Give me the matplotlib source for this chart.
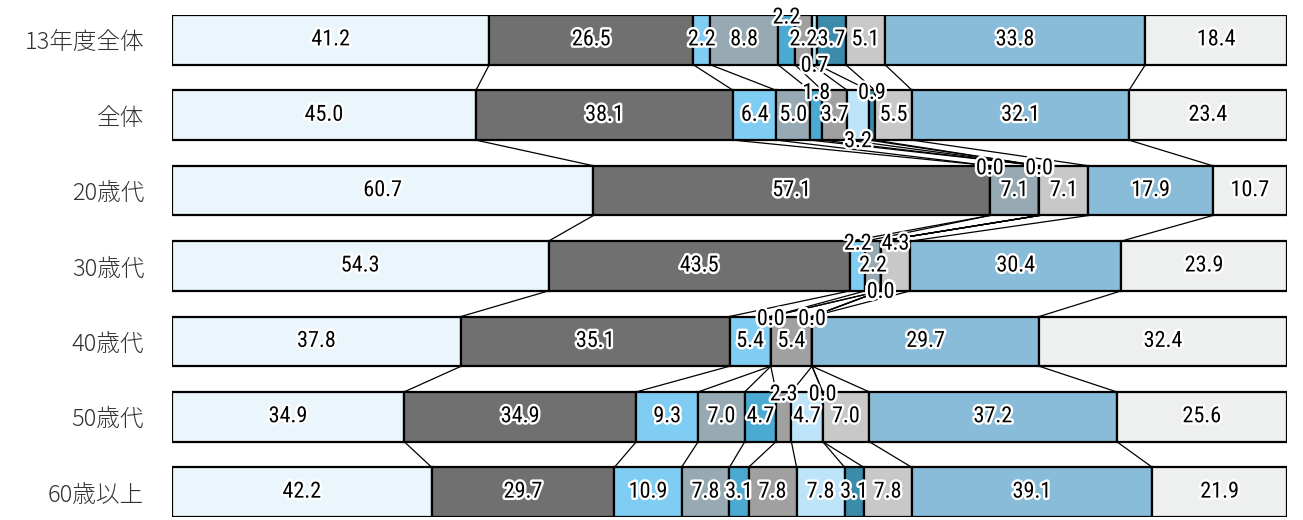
import numpy as np
import matplotlib
matplotlib.use("Agg")
import matplotlib.pyplot as plt
import matplotlib.patheffects as pe
from matplotlib import font_manager as fm

rows = ["13年度全体", "全体", "20歳代", "30歳代", "40歳代", "50歳代", "60歳以上"]

# 11 response categories per row (percent, multiple answer -> bars normalised)
r13 = [41.2, 26.5, 2.2, 8.8, 2.2, 2.2, 0.7, 3.7, 5.1, 33.8, 18.4]
rall = [45.0, 38.1, 6.4, 5.0, 1.8, 3.7, 3.2, 0.9, 5.5, 32.1, 23.4]
r20 = [60.7, 57.1, 0.0, 7.1, 0.0, 0.0, 0.0, 0.0, 7.1, 17.9, 10.7]
r30 = [54.3, 43.5, 2.2, 2.2, 0.0, 0.0, 0.0, 0.0, 4.3, 30.4, 23.9]
r40 = [37.8, 35.1, 5.4, 0.0, 0.0, 5.4, 0.0, 0.0, 0.0, 29.7, 32.4]
r50 = [34.9, 34.9, 9.3, 7.0, 4.7, 2.3, 4.7, 0.0, 7.0, 37.2, 25.6]
r60 = [42.2, 29.7, 10.9, 7.8, 3.1, 7.8, 7.8, 3.1, 7.8, 39.1, 21.9]
values = [r13, rall, r20, r30, r40, r50, r60]

colors = ["#eaf5fc", "#707070", "#7fcdf2", "#97a9b3", "#4aaad2", "#a0a0a0",
          "#bde4f8", "#3b8bab", "#c8c8c8", "#89bcd8", "#eeefef"]

# where small labels are moved to (row, category) -> above / below
place = {(0, 4): "above", (0, 6): "below",
         (1, 4): "above", (1, 6): "below", (1, 7): "above",
         (3, 2): "above", (3, 8): "above",
         (5, 5): "above", (5, 7): "above"}


def narrow_font():
    # pick a condensed face if one is installed
    for fam in ["Roboto Condensed", "Liberation Sans Narrow", "Open Sans Condensed"]:
        try:
            fm.findfont(fm.FontProperties(family=fam), fallback_to_default=False)
            return fm.FontProperties(family=fam, size=16)
        except Exception:
            pass
    return fm.FontProperties(family="Roboto", stretch="condensed", size=15)


numfont = narrow_font()

fig = plt.figure(figsize=(13.03, 5.2), dpi=100)
ax = fig.add_axes([172 / 1303, 3 / 520, 1115 / 1303, 502 / 520])

h = 0.66
cums = []
for i, vals in enumerate(values):
    vals = np.array(vals)
    share = vals / vals.sum() * 100
    left = np.concatenate([[0], np.cumsum(share)[:-1]])
    cums.append(np.cumsum(share))
    ax.barh(i, share, left=left, height=h, color=colors,
            edgecolor="black", linewidth=1.6, zorder=2)
    for k, v in enumerate(vals):
        xc = left[k] + share[k] / 2
        pos = place.get((i, k))
        if v == 0:
            pos = "below" if i == 3 else "above"
        y = i
        if pos == "above":
            y = i - h / 2 + 0.04
        elif pos == "below":
            y = i + h / 2 + 0.02
        ax.text(xc, y, f"{v:.1f}", ha="center", va="center",
                fontproperties=numfont, color="black", zorder=5,
                path_effects=[pe.withStroke(linewidth=3.5, foreground="white")])

# series lines between neighbouring bars
for i in range(len(values) - 1):
    for k in range(10):
        ax.plot([cums[i][k], cums[i + 1][k]], [i + h / 2, i + 1 - h / 2],
                color="black", linewidth=0.9, zorder=1)

ax.set_xlim(0, 100)
ax.set_ylim(len(rows) - 1 + h / 2, -h / 2)
ax.set_yticks(range(len(rows)))
ax.set_yticklabels(rows, fontsize=17, color="#333333",
                   family="Noto Sans CJK JP", fontweight="light")
ax.tick_params(axis="y", length=0, pad=20)
ax.set_xticks([])
for s in ax.spines.values():
    s.set_visible(False)

fig.savefig("out.png", dpi=100)
